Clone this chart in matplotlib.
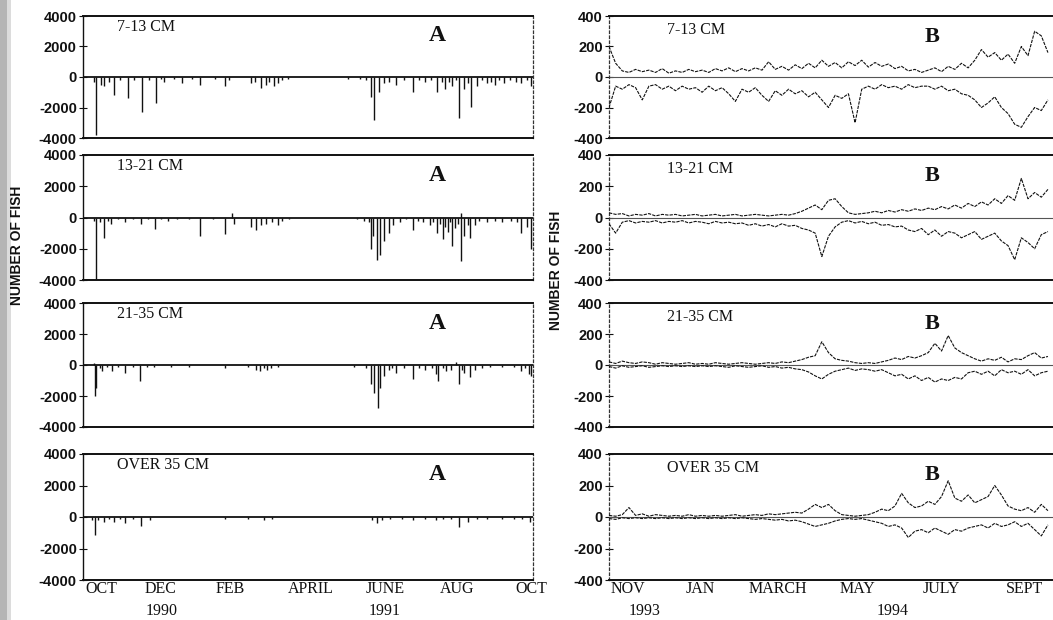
import matplotlib
matplotlib.use("Agg")
import matplotlib.pyplot as plt
from matplotlib.patches import Rectangle

# ---------------- DATA ----------------
size_classes = ["7-13 CM", "13-21 CM", "21-35 CM", "OVER 35 CM"]

# Panel A (1990-1991): days since mid-Sept 1990, net passage spikes
A_days_1 = [9, 11, 15, 18, 22, 26, 31, 38, 43, 50,
            56, 62, 66, 69, 77, 84, 92, 99, 112, 120,
            124, 142, 146, 151, 155, 158, 162, 165, 169, 174,
            225, 235, 240, 244, 247, 251, 255, 259, 265, 272,
            280, 285, 290, 295, 300, 304, 307, 310, 313, 316,
            319, 323, 326, 329, 334, 338, 342, 346, 349, 353,
            357, 362, 367, 371, 376, 380]
A_vals_1 = [-300, -3800, -500, -600, -300, -1200, -200, -1400, -200, -2300,
            -200, -1700, -100, -300, -100, -400, -100, -500, -100, -600,
            -200, -400, -300, -700, -500, -300, -600, -400, -200, -100,
            -100, -100, -200, -1300, -2800, -1000, -400, -300, -500, -200,
            -1000, -200, -300, -200, -1000, -300, -800, -300, -600, -200,
            -2700, -800, -400, -1950, -600, -200, -400, -300, -500, -200,
            -400, -200, -300, -400, -200, -600]

A_days_2 = [9, 11, 14, 18, 21, 24, 30, 36, 42, 49,
            55, 61, 66, 72, 80, 90, 99, 110, 120, 126,
            128, 142, 147, 151, 155, 160, 165, 169, 175, 232,
            238, 242, 244, 246, 249, 252, 255, 259, 263, 269,
            274, 280, 284, 288, 294, 297, 300, 303, 305, 307,
            309, 311, 313, 315, 318, 320, 320, 323, 326, 328,
            332, 336, 342, 349, 355, 363, 368, 371, 376, 380]
A_vals_2 = [-200, -3950, -300, -1300, -200, -400, -100, -300, -100, -400,
            -100, -750, -100, -200, -100, -100, -1200, -100, -1050, 300,
            -400, -600, -800, -500, -400, -300, -500, -200, -100, -100,
            -200, -300, -2000, -1200, -2700, -2400, -1500, -1000, -500, -300,
            -100, -800, -200, -300, -500, -300, -1000, -400, -1400, -600,
            -900, -300, -1800, -700, -400, 300, -2780, -1200, -500, -1300,
            -500, -200, -300, -200, -300, -200, -300, -1000, -600, -2000]

A_days_3 = [9, 10, 11, 14, 16, 20, 25, 30, 36, 42,
            48, 54, 60, 75, 90, 120, 140, 147, 150, 153,
            156, 159, 165, 230, 240, 244, 247, 250, 252, 255,
            259, 262, 265, 272, 280, 285, 290, 296, 299, 301,
            305, 308, 312, 316, 319, 321, 323, 328, 332, 338,
            345, 355, 365, 371, 375, 378, 380]
A_vals_3 = [100, -2000, -1500, -200, -400, -100, -400, -100, -500, -100,
            -1000, -100, -100, -100, -100, -200, -100, -300, -400, -200,
            -300, -200, -100, -100, -200, -1200, -1800, -2750, -1500, -700,
            -300, -200, -500, -200, -900, -200, -300, -200, -600, -1000,
            -200, -400, -300, 200, -1200, -300, -500, -800, -300, -200,
            -100, -100, -100, -400, -200, -600, -700]

A_days_4 = [8, 10, 13, 18, 22, 26, 31, 36, 42, 49,
            57, 120, 140, 153, 160, 245, 249, 253, 260, 270,
            280, 290, 299, 305, 312, 319, 326, 334, 342, 355,
            365, 372, 379]
A_vals_4 = [-200, -1150, -200, -300, -100, -300, -100, -400, -100, -600,
            -200, -150, -100, -200, -100, -200, -400, -200, -100, -100,
            -200, -100, -200, -100, -150, -650, -300, -100, -150, -100,
            -100, -150, -300]

# Panel B (1993-1994): sampled every 5 days from late Oct 1993
B_days = [0, 5, 10, 15, 20, 25, 30, 35, 40, 45,
          50, 55, 60, 65, 70, 75, 80, 85, 90, 95,
          100, 105, 110, 115, 120, 125, 130, 135, 140, 145,
          150, 155, 160, 165, 170, 175, 180, 185, 190, 195,
          200, 205, 210, 215, 220, 225, 230, 235, 240, 245,
          250, 255, 260, 265, 270, 275, 280, 285, 290, 295,
          300, 305, 310, 315, 320, 325, 330]

B_pos_1 = [200, 90, 40, 30, 50, 35, 45, 30, 55, 25,
           40, 30, 50, 35, 45, 30, 55, 40, 60, 35,
           55, 40, 60, 45, 100, 50, 70, 45, 80, 55,
           90, 60, 110, 70, 95, 60, 100, 75, 110, 65,
           95, 70, 85, 55, 70, 40, 50, 30, 45, 60,
           35, 70, 50, 90, 60, 110, 180, 130, 160, 110,
           150, 90, 200, 140, 300, 270, 160]
B_neg_1 = [-200, -60, -80, -50, -70, -150, -60, -50, -80, -60,
           -90, -60, -80, -70, -100, -60, -90, -70, -110, -160,
           -80, -100, -70, -120, -160, -90, -120, -80, -110, -90,
           -130, -100, -150, -200, -120, -140, -110, -300, -80, -60,
           -80, -50, -70, -60, -80, -50, -70, -60, -60, -80,
           -60, -90, -80, -110, -120, -150, -200, -170, -130, -200,
           -240, -310, -330, -260, -200, -220, -150]

B_pos_2 = [30, 20, 25, 10, 20, 15, 25, 10, 20, 15,
           20, 10, 15, 20, 10, 15, 20, 10, 15, 20,
           10, 15, 20, 15, 10, 15, 20, 15, 25, 40,
           60, 80, 50, 110, 120, 70, 30, 20, 25, 30,
           40, 30, 45, 35, 50, 40, 55, 45, 60, 50,
           70, 55, 80, 60, 90, 70, 100, 80, 120, 90,
           140, 110, 250, 120, 160, 130, 180]
B_neg_2 = [-40, -100, -30, -20, -35, -25, -30, -20, -35, -25,
           -30, -20, -35, -25, -30, -40, -25, -35, -30, -40,
           -35, -50, -40, -55, -45, -60, -40, -55, -50, -70,
           -80, -100, -250, -120, -60, -30, -20, -35, -25, -40,
           -30, -50, -45, -60, -55, -80, -90, -70, -110, -80,
           -120, -90, -100, -130, -110, -90, -140, -120, -100, -150,
           -180, -270, -130, -160, -200, -110, -90]

B_pos_3 = [20, 10, 25, 15, 10, 20, 15, 5, 15, 10,
           5, 10, 15, 5, 10, 5, 15, 10, 5, 10,
           15, 10, 5, 10, 15, 10, 20, 15, 25, 35,
           50, 60, 150, 80, 40, 30, 25, 15, 10, 15,
           10, 20, 30, 45, 35, 55, 45, 60, 80, 140,
           90, 190, 110, 80, 60, 40, 25, 40, 30, 50,
           20, 40, 35, 60, 80, 45, 55]
B_neg_3 = [-10, -20, -5, -15, -10, -5, -15, -10, -5, -10,
           -5, -10, -5, -10, -5, -10, -5, -10, -15, -5,
           -10, -15, -10, -5, -15, -10, -20, -15, -25, -30,
           -45, -70, -90, -60, -40, -30, -20, -35, -25, -30,
           -40, -30, -50, -70, -60, -90, -70, -100, -80, -110,
           -90, -100, -80, -90, -50, -40, -60, -40, -70, -30,
           -50, -40, -60, -30, -70, -50, -40]

B_pos_4 = [10, 5, 15, 60, 10, 20, 5, 15, 10, 5,
           10, 5, 15, 5, 10, 5, 10, 5, 10, 15,
           5, 10, 15, 10, 20, 15, 20, 25, 30, 25,
           50, 80, 60, 80, 40, 15, 10, 5, 10, 15,
           30, 50, 40, 70, 150, 90, 60, 70, 100, 80,
           130, 230, 120, 100, 140, 90, 110, 130, 200, 140,
           70, 50, 40, 60, 30, 80, 40]
B_neg_4 = [-10, -15, -5, -10, -5, -10, -5, -10, -5, -10,
           -5, -10, -5, -10, -5, -10, -5, -10, -5, -10,
           -5, -10, -15, -10, -15, -20, -15, -25, -20, -30,
           -45, -60, -50, -40, -25, -15, -10, -15, -10, -20,
           -30, -40, -60, -50, -70, -130, -90, -80, -100, -70,
           -90, -110, -80, -90, -70, -60, -50, -70, -40, -60,
           -50, -30, -60, -40, -80, -120, -50]

A_yticks = [-4000, -2000, 0, 2000, 4000]
B_yticks = [-400, -200, 0, 200, 400]
A_month_labels = ["OCT", "DEC", "FEB", "APRIL", "JUNE", "AUG", "OCT"]
A_month_pos = [15.3, 65.3, 124.6, 193.2, 255.9, 316.9, 379.7]
B_month_labels = ["NOV", "JAN", "MARCH", "MAY", "JULY", "SEPT"]
B_month_pos = [14.3, 68.4, 127.0, 186.5, 249.5, 312.0]
A_years = [("1990", 67.0), ("1991", 256.0)]
B_years = [("1993", 27.0), ("1994", 213.0)]

A_series = [(A_days_1, A_vals_1), (A_days_2, A_vals_2),
            (A_days_3, A_vals_3), (A_days_4, A_vals_4)]
B_series = [(B_pos_1, B_neg_1), (B_pos_2, B_neg_2),
            (B_pos_3, B_neg_3), (B_pos_4, B_neg_4)]

# ---------------- LAYOUT ----------------
W, H = 1053, 620
fig = plt.figure(figsize=(W / 100, H / 100), dpi=100)
fig.patch.set_facecolor("white")

rows = [(16, 138), (155, 280), (303, 427), (454, 580)]
SERIF = "Liberation Serif"
SANS = "Liberation Sans"
INK = "#111111"

# scanner edge band
fig.patches.append(Rectangle((0, 0), 7 / W, 1, transform=fig.transFigure,
                             facecolor="#b5b5b5", edgecolor="none"))
fig.patches.append(Rectangle((7 / W, 0), 4 / W, 1, transform=fig.transFigure,
                             facecolor="#dcdcdc", edgecolor="none"))


def style_ticks(ax, ticks):
    ax.set_yticks(ticks)
    ax.set_yticklabels([str(t) for t in ticks], fontfamily=SANS,
                       fontsize=10.5, fontweight="bold", color=INK)
    ax.tick_params(axis="y", direction="inout", length=6, width=0.8,
                   pad=1.5, colors=INK)
    ax.tick_params(axis="x", length=0)


for i, (top, bot) in enumerate(rows):
    b = 1 - bot / H
    h = (bot - top) / H

    # ---------- left (A) ----------
    axL = fig.add_axes([83 / W, b, 450 / W, h])
    axL.set_xlim(0, 381.4)
    axL.set_ylim(-4000, 4000)
    style_ticks(axL, A_yticks)
    for s in ("top", "bottom"):
        axL.spines[s].set_linewidth(1.4)
        axL.spines[s].set_color(INK)
    axL.spines["left"].set_linewidth(1.0)
    axL.spines["left"].set_color(INK)
    axL.spines["right"].set_linewidth(0.9)
    axL.spines["right"].set_linestyle((0, (2, 2)))
    axL.spines["right"].set_color("#333333")
    axL.axhline(0, color=INK, lw=1.3, zorder=2)
    d, v = A_series[i]
    axL.vlines(d, 0, v, color=INK, lw=1.0, zorder=3)
    axL.text(0.076, 3300, size_classes[i], transform=axL.get_yaxis_transform(),
             fontfamily=SERIF, fontsize=11.5, ha="left", va="center", color=INK)
    axL.text(0.787, 2700, "A", transform=axL.get_yaxis_transform(),
             fontfamily=SERIF, fontsize=17, fontweight="bold",
             ha="center", va="center", color=INK)

    # ---------- right (B) ----------
    axR = fig.add_axes([609 / W, b, 444 / W, h])
    axR.set_xlim(0, 333.8)
    axR.set_ylim(-400, 400)
    style_ticks(axR, B_yticks)
    for s in ("top", "bottom"):
        axR.spines[s].set_linewidth(1.4)
        axR.spines[s].set_color(INK)
    axR.spines["right"].set_visible(False)
    axR.spines["left"].set_linewidth(0.9)
    axR.spines["left"].set_linestyle((0, (2, 2)))
    axR.spines["left"].set_color("#333333")
    axR.axhline(0, color="#555555", lw=0.8, zorder=2)
    pos, neg = B_series[i]
    axR.plot(B_days, pos, color=INK, lw=0.8, ls=(0, (3, 1)), zorder=3)
    axR.plot(B_days, neg, color=INK, lw=0.8, ls=(0, (3, 1)), zorder=3)
    axR.text(0.13, 310, size_classes[i], transform=axR.get_yaxis_transform(),
             fontfamily=SERIF, fontsize=11.5, ha="left", va="center", color=INK)
    axR.text(0.727, 265, "B", transform=axR.get_yaxis_transform(),
             fontfamily=SERIF, fontsize=16, fontweight="bold",
             ha="center", va="center", color=INK)

    if i == 3:
        axL.set_xticks(A_month_pos)
        axL.set_xticklabels(A_month_labels, fontfamily=SERIF, fontsize=11.5,
                            color=INK)
        axL.tick_params(axis="x", pad=0.5)
        for yr, x in A_years:
            axL.text(x, -0.245, yr, transform=axL.get_xaxis_transform(),
                     fontfamily=SERIF, fontsize=11.5, ha="center", va="center",
                     color=INK)
        axR.set_xticks(B_month_pos)
        axR.set_xticklabels(B_month_labels, fontfamily=SERIF, fontsize=11.5,
                            color=INK)
        axR.tick_params(axis="x", pad=0.5)
        for yr, x in B_years:
            axR.text(x, -0.245, yr, transform=axR.get_xaxis_transform(),
                     fontfamily=SERIF, fontsize=11.5, ha="center", va="center",
                     color=INK)
    else:
        axL.set_xticks([])
        axR.set_xticks([])

fig.text(17 / W, 1 - 245 / H, "NUMBER OF FISH", rotation=90, fontfamily=SANS,
         fontsize=10, fontweight="bold", ha="center", va="center", color=INK)
fig.text(556 / W, 1 - 270 / H, "NUMBER OF FISH", rotation=90, fontfamily=SANS,
         fontsize=10, fontweight="bold", ha="center", va="center", color=INK)

fig.savefig("out.png", dpi=100, facecolor="white")
